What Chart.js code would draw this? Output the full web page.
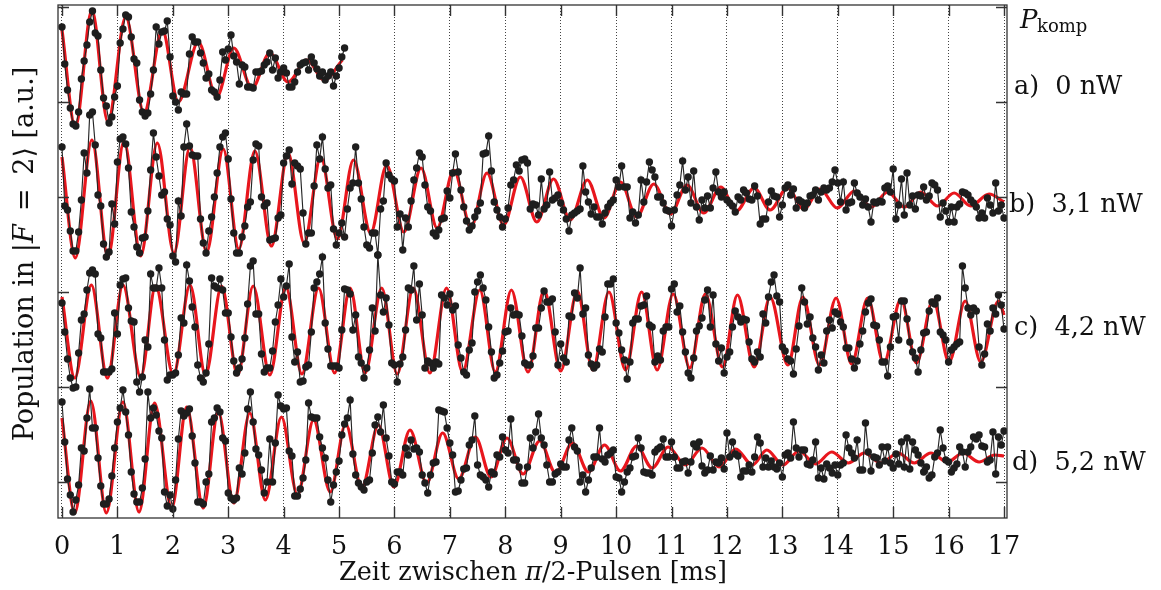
<!DOCTYPE html>
<html><head><meta charset="utf-8">
<script src="https://cdn.jsdelivr.net/npm/chart.js@4.4.0/dist/chart.umd.min.js"></script>
<style>html,body{margin:0;padding:0;background:#fff;}#wrap{width:1161px;height:590px;}</style>
</head><body><div id="wrap"><canvas id="c" width="1161" height="590"></canvas></div>
<script>
// ---- data (time in ms, population in a.u. incl. vertical offset of each trace) ----
const xTicks = [0,1,2,3,4,5,6,7,8,9,10,11,12,13,14,15,16,17];
const yTicks = [38,133,228,323,418,513];
const traceLabels = ['a)  0 nW','b)  3,1 nW','c)  4,2 nW','d)  5,2 nW'];
const dt = 0.05;

const aPts = [
493,456,430,412,396,394,408,441,459,475,498,509,487,484,450,422,414,397,403,423,
434,477,491,505,503,483,461,457,420,408,404,407,426,450,493,476,488,489,499,463,
424,418,410,428,426,426,466,483,478,478,467,457,442,446,430,428,423,440,468,460,
471,485,464,458,436,455,453,433,433,432,448,448,449,455,458,467,450,462,442,448,
452,447,433,433,438,448,455,457,458,450,463,457,451,444,448,440,444,448,434,444,
452,463,472];
const bPts = [
373,314,310,289,269,269,288,320,367,347,405,408,375,325,314,276,263,268,316,296,
358,381,383,376,352,308,293,273,267,282,283,309,350,387,363,344,325,328,301,295,
264,258,319,304,373,396,374,365,364,364,301,277,267,289,303,323,347,373,383,387,
361,321,287,267,267,283,294,313,318,360,376,374,323,314,317,280,281,282,302,305,
357,364,370,336,357,354,351,307,276,287,287,334,375,361,383,351,332,335,291,275,
287,297,283,311,332,337,373,337,321,293,275,272,287,287,265,311,319,357,345,341,
339,293,306,270,302,293,319,340,352,367,363,335,313,309,287,284,290,301,302,329,
322,347,366,348,330,313,299,290,294,303,309,317,366,367,384,349,318,310,303,293,
301,312,335,340,355,349,360,361,357,311,316,315,305,341,311,315,348,320,322,325,
317,310,301,289,305,307,309,311,354,328,318,306,313,303,303,296,307,313,317,320,
340,333,354,333,333,302,308,297,305,340,318,338,358,350,343,323,323,317,310,309,
294,310,325,335,359,330,343,317,349,313,300,320,312,324,312,332,348,328,323,328,
320,317,314,308,323,320,330,327,321,320,334,324,296,301,301,318,329,324,323,303,
315,332,335,325,331,312,320,318,312,317,324,325,330,320,328,332,330,332,338,350,
337,318,338,310,317,318,337,327,323,315,321,313,298,318,317,319,318,332,334,328,
351,301,315,341,305,347,315,324,311,325,324,333,320,324,337,335,330,303,317,309,
298,313,298,313,316,328,327,325,320,317,313,302,307,302,322,315,307,337,309,315,
302];
const cPts = [
217,188,161,142,132,133,167,200,206,230,247,250,246,186,182,148,148,148,151,207,
186,235,241,242,212,199,198,138,128,143,180,173,246,232,232,252,232,180,140,145,
145,147,165,202,197,255,239,213,193,155,142,138,147,176,242,234,232,241,230,207,
207,183,159,147,152,161,182,216,254,259,206,206,166,148,152,152,169,198,215,241,
223,234,256,183,158,168,138,139,153,155,188,232,238,246,263,197,171,154,154,154,
152,190,231,230,226,190,205,163,157,142,152,170,212,189,265,225,208,222,195,157,
155,138,156,163,190,232,230,254,200,236,205,152,159,157,152,158,156,225,222,215,
226,210,214,175,162,148,145,170,177,228,238,245,232,220,193,168,142,145,157,169,
188,189,212,205,206,205,184,157,155,155,164,192,192,212,229,218,218,221,188,155,
176,162,158,204,203,227,222,252,206,212,165,156,152,155,171,168,203,236,236,241,
197,187,170,160,141,158,197,201,201,214,215,224,195,193,158,164,160,189,193,193,
231,236,208,214,188,168,147,142,162,189,194,202,220,230,193,225,176,159,172,147,
163,168,193,209,203,198,201,200,178,161,158,168,163,206,197,223,238,245,224,218,
173,169,161,159,146,171,194,232,218,196,203,182,173,150,165,157,189,200,192,208,
206,198,193,172,172,161,152,159,176,189,208,217,221,195,194,180,158,158,144,173,
203,204,180,219,219,201,178,168,162,148,170,187,188,209,218,216,222,188,185,180,
158,170,173,176,178,254,232,212,205,212,209,173,155,166,196,189,212,206,225,215,
191];
const dPts = [
118,78,41,25,8,20,35,72,69,102,131,92,92,62,34,16,16,21,44,72,
98,112,130,108,85,48,26,18,18,32,61,128,102,112,105,89,82,28,14,25,
11,40,81,109,104,107,111,84,57,18,18,16,38,46,98,102,112,108,82,79,
27,22,20,22,52,46,67,111,128,98,71,65,50,27,38,81,38,77,125,114,
111,112,69,64,24,24,31,42,60,117,103,102,102,83,72,62,40,18,35,48,
59,85,96,102,120,66,45,37,33,30,38,40,67,95,103,88,115,82,64,38,
36,48,48,45,72,65,80,71,72,68,45,37,27,45,57,58,110,109,108,92,
77,65,28,29,40,51,52,75,80,104,55,45,43,40,33,48,46,65,63,83,
70,67,101,60,60,53,37,37,53,82,72,88,106,82,75,55,38,38,46,48,
56,53,53,80,92,73,69,38,45,28,40,52,63,63,92,61,58,65,67,70,
43,42,28,38,48,52,63,64,82,72,48,47,47,45,68,71,73,81,63,63,
78,63,52,52,58,59,47,58,76,73,78,54,47,50,64,50,58,57,62,51,
87,63,78,66,64,43,49,49,55,48,63,83,77,53,62,53,59,53,51,57,
43,65,67,62,98,72,63,70,70,56,55,60,78,42,52,41,56,52,47,55,
45,55,57,85,72,67,62,80,50,50,97,68,49,63,62,55,73,59,73,57,
52,66,56,78,53,82,51,78,70,65,57,48,53,42,45,63,67,90,72,60,
58,48,52,56,73,68,53,68,73,83,81,85,74,73,58,60,88,46,83,75,
89];

// fitted curves: turning points (time, value)
const aFitX = [0,0.24,0.54,0.83,1.15,1.48,1.81,2.10,2.46,2.79,3.10,3.43,3.75,4.08,4.42,4.73,5.06];
const aFitY = [490,393,510,398,503,407,490,418,478,423,472,432,467,438,460,440,460];
const bFitX = [0,0.24,0.54,0.83,1.12,1.42,1.72,2.02,2.31,2.61,2.91,3.19,3.48,3.78,4.08,4.37,4.67,4.97,5.26,5.57,5.86,6.17,6.48,6.77,7.07,7.38,7.67,7.97,8.27,8.57,8.87,9.17,9.48,9.78,10.08,10.37,10.68,10.98,11.28,11.58,11.89,12.17,12.49,12.78,13.09,13.39,13.68,13.99,14.30,14.60,14.90,15.20,15.50,15.80,16.10,16.40,16.73,17.0];
const bFitY = [363,262,380,263,379,264,377,267,373,268,371,271,369,274,367,277,363,281,360,287,355,288,352,292,350,293,347,295,343,298,341,300,340,302,338,303,336,306,335,307,333,309,332,310,332,311,331,312,329,313,328,313,328,314,327,314,326,318];
const cFitX = [0,0.23,0.53,0.82,1.10,1.42,1.69,2.01,2.31,2.59,2.88,3.17,3.45,3.75,4.04,4.33,4.63,4.92,5.20,5.47,5.77,6.05,6.34,6.64,6.94,7.23,7.54,7.82,8.11,8.41,8.70,9.00,9.30,9.58,9.87,10.17,10.46,10.74,11.03,11.33,11.61,11.92,12.19,12.49,12.78,13.10,13.37,13.67,13.97,14.25,14.54,14.83,15.14,15.42,15.72,16.01,16.30,16.58,16.90,17.0];
const cFitY = [223,142,235,142,235,143,234,145,235,145,234,145,234,145,233,146,232,147,232,147,232,146,232,147,232,148,230,148,230,148,230,149,229,150,228,150,228,150,226,152,226,153,225,153,223,155,223,155,222,156,222,157,221,157,220,158,219,158,219,205];
const dFitX = [0,0.23,0.52,0.80,1.10,1.39,1.67,1.98,2.25,2.55,2.82,3.10,3.39,3.67,3.96,4.25,4.54,4.84,5.12,5.41,5.71,5.99,6.28,6.58,6.87,7.16,7.46,7.74,8.03,8.32,8.62,8.91,9.21,9.50,9.79,10.08,10.37,10.65,10.94,11.25,11.55,11.86,12.16,12.46,12.72,13.01,13.30,13.60,13.89,14.19,14.48,14.78,15.09,15.38,15.68,15.98,16.26,16.55,16.83,17.0];
const dFitY = [102,7,119,7,118,8,117,12,113,12,108,17,107,20,103,25,100,28,96,32,95,33,90,37,87,41,83,43,82,46,79,47,77,48,75,49,74,52,73,55,72,53,71,55,70,55,69,56,68,57,67,57,67,57,67,58,67,58,65,64];

// ---- build datasets ----
const toPts = vals => vals.map((v,i)=>({x: Math.round(i*dt*100)/100, y: v}));
const toFit = (xs, ys) => xs.map((x,i)=>({x, y: ys[i]}));
const RED = '#e8161d', BLK = '#1e1e1e';
function fitDs(xs, ys){ return {data: toFit(xs, ys), borderColor: RED, borderWidth: 3.2, pointRadius: 0, cubicInterpolationMode: 'monotone', fill: false, order: 2}; }
function ptDs(vals){ return {data: toPts(vals), borderColor: '#262626', borderWidth: 1.15, pointRadius: 3.7, pointBackgroundColor: BLK, pointBorderWidth: 0, tension: 0, fill: false, order: 1}; }

const SERIF = '"DejaVu Serif", serif';
const decor = {
  id: 'decor',
  afterDraw(chart){
    const {ctx, chartArea: a, scales: {x, y}} = chart;
    ctx.save();
    ctx.strokeStyle = '#333'; ctx.lineWidth = 1.3;
    ctx.strokeRect(a.left, a.top, a.right - a.left, a.bottom - a.top);
    ctx.lineWidth = 1.4;
    ctx.beginPath();
    xTicks.forEach(v => { const px = Math.round(x.getPixelForValue(v)) + 0.5;
      ctx.moveTo(px, a.bottom); ctx.lineTo(px, a.bottom - 11);
      ctx.moveTo(px, a.top); ctx.lineTo(px, a.top + 11); });
    yTicks.forEach(v => { const py = Math.round(y.getPixelForValue(v)) + 0.5;
      ctx.moveTo(a.left, py); ctx.lineTo(a.left + 11, py);
      ctx.moveTo(a.right, py); ctx.lineTo(a.right - 11, py); });
    ctx.stroke();
    ctx.fillStyle = '#111';
    ctx.font = '25.5px ' + SERIF; ctx.textAlign = 'center'; ctx.textBaseline = 'middle';
    xTicks.forEach(v => ctx.fillText(String(v), x.getPixelForValue(v), 547));
    const drawRuns = (runs, cx, cy) => {
      let w = 0; runs.forEach(r => { ctx.font = r[1]; w += ctx.measureText(r[0]).width; });
      let sx = cx - w/2; ctx.textAlign = 'left';
      runs.forEach(r => { ctx.font = r[1]; ctx.fillText(r[0], sx, cy); sx += ctx.measureText(r[0]).width; });
    };
    const N = '25.5px ' + SERIF, I = 'italic 25.5px ' + SERIF;
    drawRuns([['Zeit zwischen ', N], ['π', I], ['/2-Pulsen [ms]', N]], 533, 573);
    const N2 = '27px ' + SERIF, I2 = 'italic 27px ' + SERIF;
    ctx.save(); ctx.translate(26, 254); ctx.rotate(-Math.PI/2);
    drawRuns([['Population in |', N2], ['F', I2], ['\u2002=\u20022\u27E9 [a.u.]', N2]], 0, 0);
    ctx.restore();
    ctx.textAlign = 'left'; ctx.textBaseline = 'alphabetic';
    ctx.font = 'italic 26px ' + SERIF; ctx.fillText('P', 1020, 28);
    ctx.font = '18px ' + SERIF; ctx.fillText('komp', 1037, 32);
    ctx.font = '25.5px ' + SERIF; ctx.textBaseline = 'middle';
    const ly = [87, 205, 328, 463];
    const lx = [1014, 1009, 1014, 1012];
    traceLabels.forEach((t, i) => ctx.fillText(t, lx[i], ly[i]));
    ctx.restore();
  }
};

new Chart(document.getElementById('c'), {
  type: 'line',
  data: { datasets: [fitDs(aFitX,aFitY), fitDs(bFitX,bFitY), fitDs(cFitX,cFitY), fitDs(dFitX,dFitY),
                     ptDs(aPts), ptDs(bPts), ptDs(cPts), ptDs(dPts)] },
  options: {
    responsive: false, animation: false, devicePixelRatio: 1,
    layout: { padding: { left: 58, right: 154, top: 5, bottom: 72 } },
    plugins: { legend: { display: false }, tooltip: { enabled: false } },
    scales: {
      x: { type: 'linear', min: -0.072, max: 17.054,
           afterBuildTicks: ax => { ax.ticks = xTicks.map(v => ({value: v})); },
           ticks: { display: false },
           grid: { display: true, drawTicks: false, color: '#444', lineWidth: 1 },
           border: { display: false, dash: [1,2] } },
      y: { type: 'linear', min: 2, max: 515,
           afterBuildTicks: ax => { ax.ticks = yTicks.map(v => ({value: v})); },
           ticks: { display: false }, grid: { display: false, drawTicks: false }, border: { display: false } }
    }
  },
  plugins: [decor]
});
</script></body></html>
